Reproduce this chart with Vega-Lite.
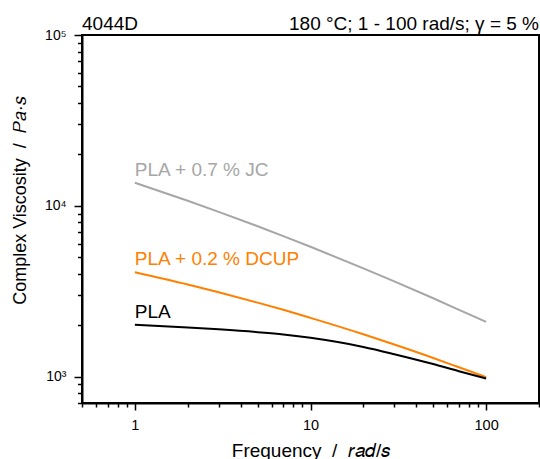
{
  "$schema": "https://vega.github.io/schema/vega-lite/v6.json",
  "width": 457,
  "height": 368,
  "autosize": {"type": "none"},
  "padding": {"left": 82, "top": 35, "right": 1, "bottom": 56},
  "config": {
    "font": "Liberation Sans",
    "view": {"stroke": "black", "strokeWidth": 2},
    "axis": {
      "grid": false,
      "domainColor": "black",
      "domainWidth": 2,
      "tickColor": "black",
      "tickWidth": 1.5,
      "labelColor": "black",
      "titleColor": "black",
      "titleFontWeight": "normal",
      "labelFlush": false,
      "labelOverlap": false
    }
  },
  "datasets": {
    "curves": [
      {"s": "JC", "f": 1, "v": 13650},
      {"s": "JC", "f": 2, "v": 10695},
      {"s": "JC", "f": 3, "v": 9213},
      {"s": "JC", "f": 5, "v": 7586},
      {"s": "JC", "f": 7, "v": 6647},
      {"s": "JC", "f": 10, "v": 5752},
      {"s": "JC", "f": 20, "v": 4303},
      {"s": "JC", "f": 30, "v": 3609},
      {"s": "JC", "f": 50, "v": 2873},
      {"s": "JC", "f": 75, "v": 2384},
      {"s": "JC", "f": 100, "v": 2090},
      {"s": "DCUP", "f": 1, "v": 4080},
      {"s": "DCUP", "f": 2, "v": 3458},
      {"s": "DCUP", "f": 3, "v": 3113},
      {"s": "DCUP", "f": 5, "v": 2709},
      {"s": "DCUP", "f": 7, "v": 2459},
      {"s": "DCUP", "f": 10, "v": 2205},
      {"s": "DCUP", "f": 20, "v": 1767},
      {"s": "DCUP", "f": 30, "v": 1539},
      {"s": "DCUP", "f": 50, "v": 1284},
      {"s": "DCUP", "f": 70, "v": 1133},
      {"s": "DCUP", "f": 100, "v": 992},
      {"s": "PLA", "f": 1, "v": 2010},
      {"s": "PLA", "f": 2, "v": 1939},
      {"s": "PLA", "f": 3, "v": 1890},
      {"s": "PLA", "f": 5, "v": 1820},
      {"s": "PLA", "f": 7, "v": 1765},
      {"s": "PLA", "f": 10, "v": 1685},
      {"s": "PLA", "f": 20, "v": 1490},
      {"s": "PLA", "f": 30, "v": 1352},
      {"s": "PLA", "f": 50, "v": 1183},
      {"s": "PLA", "f": 70, "v": 1074},
      {"s": "PLA", "f": 100, "v": 973}
    ],
    "labels": [
      {"s": "JC", "f": 1, "v": 13650, "t": "PLA + 0.7 % JC"},
      {"s": "DCUP", "f": 1, "v": 4080, "t": "PLA + 0.2 % DCUP"},
      {"s": "PLA", "f": 1, "v": 2010, "t": "PLA"}
    ],
    "headerLeft": [{"f": 0.5, "v": 100000, "t": "4044D"}],
    "headerRight": [{"f": 200, "v": 100000, "t": "180 °C; 1 - 100 rad/s; γ = 5 %"}]
  },
  "encoding": {
    "x": {
      "field": "f",
      "type": "quantitative",
      "scale": {"type": "log", "domain": [0.5, 200], "nice": false},
      "axis": {
        "values": [0.5, 0.6, 0.7, 0.8, 0.9, 1, 2, 3, 4, 5, 6, 7, 8, 9, 10, 20, 30, 40, 50, 60, 70, 80, 90, 100, 200],
        "labelExpr": "datum.value == 1 ? '1' : datum.value == 10 ? '10' : datum.value == 100 ? '100' : ''",
        "tickSize": {"condition": {"test": "datum.value == 1 || datum.value == 10 || datum.value == 100", "value": 7}, "value": 4},
        "labelFontSize": 14.5,
        "labelBaseline": "alphabetic",
        "labelPadding": 19,
        "title": "Frequency\u00a0\u00a0/\u00a0\u00a0𝑟𝑎𝑑/𝑠",
        "titleFontSize": 19,
        "titleY": 53,
        "titleBaseline": "alphabetic"
      }
    },
    "y": {
      "field": "v",
      "type": "quantitative",
      "scale": {"type": "log", "domain": [700, 100000], "nice": false},
      "axis": {
        "values": [700, 800, 900, 1000, 2000, 3000, 4000, 5000, 6000, 7000, 8000, 9000, 10000, 20000, 30000, 40000, 50000, 60000, 70000, 80000, 90000, 100000],
        "labelExpr": "datum.value == 1000 ? '10³' : datum.value == 10000 ? '10⁴' : datum.value == 100000 ? '10⁵' : ''",
        "tickSize": {"condition": {"test": "datum.value == 1000 || datum.value == 10000 || datum.value == 100000", "value": 8}, "value": 4.5},
        "labelFontSize": 14,
        "labelBaseline": "middle",
        "labelPadding": 8,
        "title": "Complex Viscosity\u00a0\u00a0/\u00a0\u00a0𝑃𝑎·𝑠",
        "titleFontSize": 18,
        "titleX": -57,
        "titleY": 165,
        "titleBaseline": "alphabetic"
      }
    }
  },
  "layer": [
    {
      "data": {"name": "curves"},
      "mark": {"type": "line", "strokeWidth": 2, "interpolate": "monotone"},
      "encoding": {
        "color": {
          "field": "s",
          "type": "nominal",
          "scale": {"domain": ["PLA", "DCUP", "JC"], "range": ["#000000", "#ff8000", "#a6a6a6"]},
          "legend": null
        }
      }
    },
    {
      "data": {"name": "labels"},
      "mark": {"type": "text", "align": "left", "baseline": "alphabetic", "dy": -7, "fontSize": 19},
      "encoding": {
        "text": {"field": "t"},
        "color": {"field": "s", "type": "nominal", "legend": null}
      }
    },
    {
      "data": {"name": "headerLeft"},
      "mark": {"type": "text", "align": "left", "baseline": "alphabetic", "dy": -5, "fontSize": 19, "color": "black"},
      "encoding": {"text": {"field": "t"}}
    },
    {
      "data": {"name": "headerRight"},
      "mark": {"type": "text", "align": "right", "baseline": "alphabetic", "dy": -5, "fontSize": 19, "color": "black"},
      "encoding": {"text": {"field": "t"}}
    }
  ]
}
